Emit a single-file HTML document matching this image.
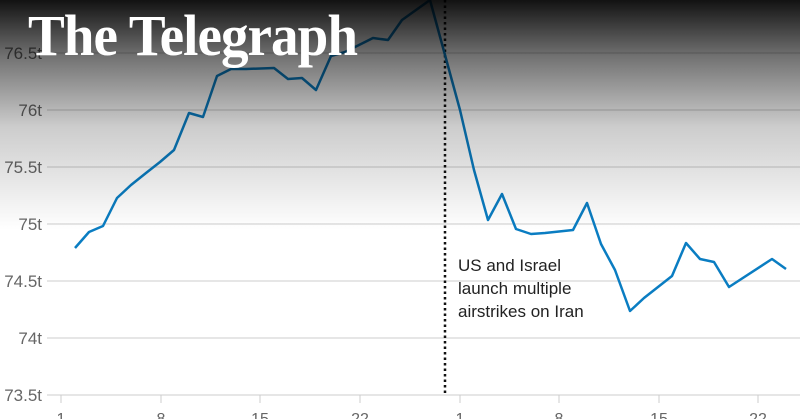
<!DOCTYPE html>
<html><head><style>
html,body{margin:0;padding:0;background:#fff;}
#w{position:relative;width:800px;height:419px;overflow:hidden;font-family:"Liberation Sans Narrow","Liberation Sans",sans-serif;}
svg{position:absolute;left:0;top:0;}
#ov{position:absolute;left:0;top:0;width:800px;height:230px;background:linear-gradient(to bottom,rgba(0,0,0,0.93) 0%,rgba(0,0,0,0.55) 25%,rgba(0,0,0,0.2) 55%,rgba(0,0,0,0) 100%);}
#logo{position:absolute;left:28px;top:2px;color:#fff;font-family:"Liberation Serif",serif;font-weight:bold;font-size:58px;letter-spacing:-1px;transform:scaleX(0.95);transform-origin:left;}
</style></head><body><div id="w">
<svg width="800" height="419" viewBox="0 0 800 419">
<g stroke="#ddd" stroke-width="1.5">
<line x1="47" x2="800" y1="-4" y2="-4"/><line x1="47" x2="800" y1="53" y2="53"/><line x1="47" x2="800" y1="110" y2="110"/><line x1="47" x2="800" y1="167" y2="167"/><line x1="47" x2="800" y1="224" y2="224"/><line x1="47" x2="800" y1="281" y2="281"/><line x1="47" x2="800" y1="338" y2="338"/><line x1="47" x2="800" y1="395" y2="395"/>
</g>
<g stroke="#ccc" stroke-width="1"><line x1="61" x2="61" y1="395" y2="403"/><line x1="161" x2="161" y1="395" y2="403"/><line x1="260" x2="260" y1="395" y2="403"/><line x1="360" x2="360" y1="395" y2="403"/><line x1="460" x2="460" y1="395" y2="403"/><line x1="559" x2="559" y1="395" y2="403"/><line x1="659" x2="659" y1="395" y2="403"/><line x1="758" x2="758" y1="395" y2="403"/></g>
<g fill="#666" font-size="17" text-anchor="end" font-family="Liberation Sans Narrow,Liberation Sans,sans-serif">
<text x="42" y="59">76.5t</text><text x="42" y="116">76t</text><text x="42" y="173">75.5t</text><text x="42" y="230">75t</text><text x="42" y="287">74.5t</text><text x="42" y="344">74t</text><text x="42" y="401">73.5t</text>
</g>
<g fill="#666" font-size="16" text-anchor="middle" font-family="Liberation Sans Narrow,Liberation Sans,sans-serif">
<text x="61" y="424">1</text><text x="161" y="424">8</text><text x="260" y="424">15</text><text x="360" y="424">22</text><text x="460" y="424">1</text><text x="559" y="424">8</text><text x="659" y="424">15</text><text x="758" y="424">22</text>
</g>
<line x1="445" x2="445" y1="0" y2="395" stroke="#111" stroke-width="2.5" stroke-dasharray="2.5,3"/>
<polyline fill="none" stroke="#0a7dc2" stroke-width="2.5" stroke-linejoin="round" points="75,248 89,232 103,226 117,198 131,185 146,173 160,162 174,150 189,113 203,117 217,76 231,69 246,69 274,68 288,79 302,78 316,90 331,56 345,52 359,45 373,38 388,40 402,20 416,10 430,0 445,55 460,110 474,170 488,220 502,194 516,229 531,234 545,233 573,230 587,203 601,244 615,270 630,311 644,298 672,276 686,243 700,259 714,262 729,287 772,259 786,269"/>
<g fill="#222" font-size="17" font-family="Liberation Sans Narrow,Liberation Sans,sans-serif">
<text x="458" y="271">US and Israel</text><text x="458" y="294">launch multiple</text><text x="458" y="317">airstrikes on Iran</text>
</g>
</svg>
<div id="ov"></div>
<div id="logo">The Telegraph</div>
</div></body></html>
